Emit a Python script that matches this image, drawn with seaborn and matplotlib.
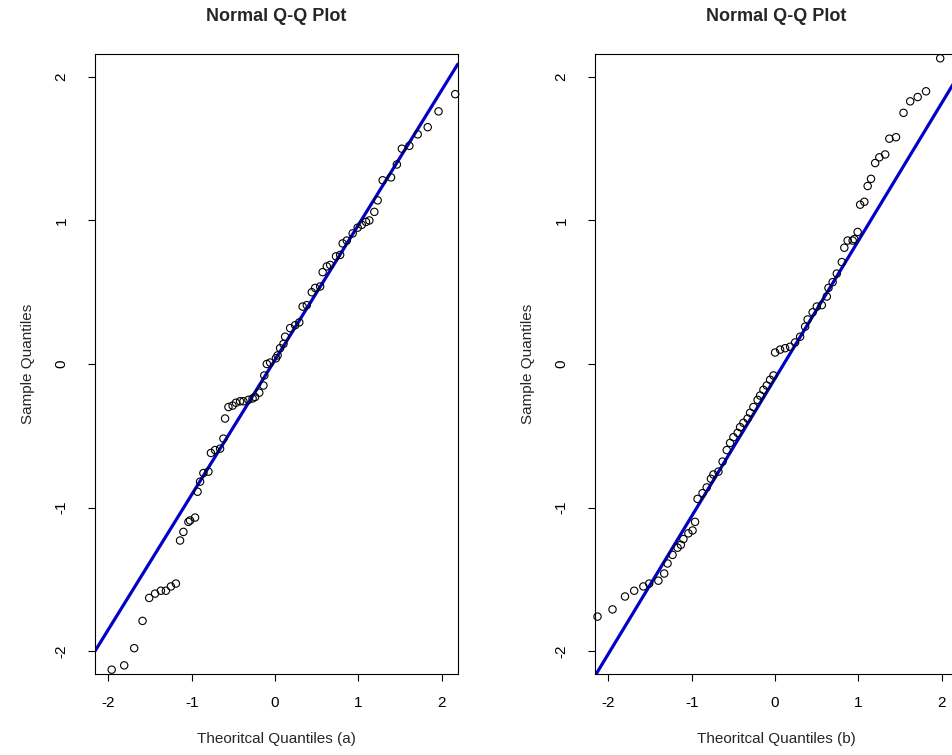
import numpy as np
import pandas as pd
import matplotlib
matplotlib.use("Agg")
import matplotlib.pyplot as plt
import seaborn as sns

# Panel (a): theoretical vs sample quantiles
theo_a = [-1.96, -1.81, -1.69, -1.59, -1.51, -1.44, -1.37, -1.31, -1.25, -1.19,
          -1.14, -1.10, -1.04, -1.02, -0.96, -0.93, -0.90, -0.86, -0.80, -0.77,
          -0.72, -0.66, -0.62, -0.60, -0.56, -0.51, -0.47, -0.42, -0.38, -0.32,
          -0.27, -0.24, -0.19, -0.14, -0.13, -0.10, -0.06, 0.01, 0.03, 0.06,
          0.10, 0.12, 0.18, 0.24, 0.29, 0.33, 0.38, 0.44, 0.48, 0.54,
          0.57, 0.62, 0.66, 0.73, 0.78, 0.81, 0.86, 0.93, 0.99, 1.04,
          1.09, 1.13, 1.19, 1.23, 1.29, 1.39, 1.46, 1.52, 1.61, 1.71,
          1.83, 1.96, 2.16]
samp_a = [-2.13, -2.10, -1.98, -1.79, -1.63, -1.60, -1.58, -1.58, -1.55, -1.53,
          -1.23, -1.17, -1.10, -1.09, -1.07, -0.89, -0.82, -0.76, -0.75, -0.62,
          -0.60, -0.59, -0.52, -0.38, -0.30, -0.29, -0.27, -0.26, -0.26, -0.25,
          -0.24, -0.23, -0.20, -0.15, -0.08, 0.00, 0.01, 0.04, 0.06, 0.11,
          0.14, 0.19, 0.25, 0.27, 0.29, 0.40, 0.41, 0.50, 0.53, 0.54,
          0.64, 0.68, 0.69, 0.75, 0.76, 0.84, 0.86, 0.91, 0.95, 0.97,
          0.99, 1.00, 1.06, 1.14, 1.28, 1.30, 1.39, 1.50, 1.52, 1.60,
          1.65, 1.76, 1.88]

# Panel (b)
theo_b = [-2.13, -1.95, -1.80, -1.69, -1.58, -1.51, -1.40, -1.33, -1.29, -1.23,
          -1.17, -1.13, -1.10, -1.04, -0.99, -0.96, -0.93, -0.87, -0.82, -0.77,
          -0.74, -0.68, -0.63, -0.58, -0.54, -0.50, -0.45, -0.42, -0.38, -0.33,
          -0.30, -0.26, -0.21, -0.18, -0.14, -0.10, -0.06, -0.02, 0.00, 0.06,
          0.12, 0.18, 0.24, 0.30, 0.36, 0.39, 0.45, 0.50, 0.56, 0.62,
          0.64, 0.69, 0.74, 0.80, 0.83, 0.87, 0.93, 0.95, 0.99, 1.02,
          1.07, 1.11, 1.15, 1.20, 1.25, 1.32, 1.37, 1.45, 1.54, 1.62,
          1.71, 1.81, 1.98]
samp_b = [-1.76, -1.71, -1.62, -1.58, -1.55, -1.53, -1.51, -1.46, -1.39, -1.33,
          -1.28, -1.26, -1.22, -1.18, -1.16, -1.10, -0.94, -0.90, -0.86, -0.80,
          -0.77, -0.75, -0.68, -0.60, -0.55, -0.51, -0.48, -0.44, -0.41, -0.38,
          -0.34, -0.30, -0.25, -0.22, -0.18, -0.15, -0.11, -0.08, 0.08, 0.10,
          0.11, 0.12, 0.15, 0.19, 0.26, 0.31, 0.36, 0.40, 0.41, 0.47,
          0.53, 0.57, 0.63, 0.71, 0.81, 0.86, 0.86, 0.87, 0.92, 1.11,
          1.13, 1.24, 1.29, 1.40, 1.44, 1.46, 1.57, 1.58, 1.75, 1.83,
          1.86, 1.90, 2.13]

# reference lines (slope / intercept)
line_a = (0.94, 0.03)
line_b = (0.96, -0.10)

x_labels = ["Theoritcal Quantiles (a)", "Theoritcal Quantiles (b)"]

sns.set_theme(style="white")
plt.rcParams["font.family"] = ["Liberation Sans", "DejaVu Sans"]
plt.rcParams["axes.unicode_minus"] = False

fig = plt.figure(figsize=(9.52, 7.55), dpi=100)
axes = [fig.add_axes([0.0998, 0.1073, 0.381, 0.8212]),
        fig.add_axes([0.625, 0.1073, 0.381, 0.8212])]

panels = [(theo_a, samp_a, line_a), (theo_b, samp_b, line_b)]
for ax, (tx, sy, (slope, icpt)), xl in zip(axes, panels, x_labels):
    df = pd.DataFrame({"theo": tx, "samp": sy})
    sns.scatterplot(data=df, x="theo", y="samp", ax=ax, s=28,
                    facecolor="none", edgecolor="black", linewidth=0.8,
                    clip_on=False, zorder=3)
    ax.axline((0, icpt), slope=slope, color="#0000C8", linewidth=2.3, zorder=2)
    ax.set_xlim(-2.16, 2.19)
    ax.set_ylim(-2.16, 2.16)
    ax.set_xticks([-2, -1, 0, 1, 2])
    ax.set_yticks([-2, -1, 0, 1, 2])
    ax.set_xticklabels(["-2", "-1", "0", "1", "2"])
    ax.set_yticklabels(["-2", "-1", "0", "1", "2"], rotation=90, va="center")
    ax.tick_params(axis="both", direction="out", length=5, width=0.8,
                   colors="black", labelsize=11, left=True, bottom=True)
    ax.tick_params(axis="y", pad=14)
    ax.tick_params(axis="x", pad=11)
    for sp in ax.spines.values():
        sp.set_color("black")
        sp.set_linewidth(0.8)
    ax.set_xlabel(xl, fontsize=11, labelpad=16)
    ax.set_ylabel("Sample Quantiles", fontsize=11, labelpad=14)
    ax.set_title("Normal Q-Q Plot", fontsize=13, fontweight="bold", pad=24)

fig.savefig("out.png", dpi=100)
